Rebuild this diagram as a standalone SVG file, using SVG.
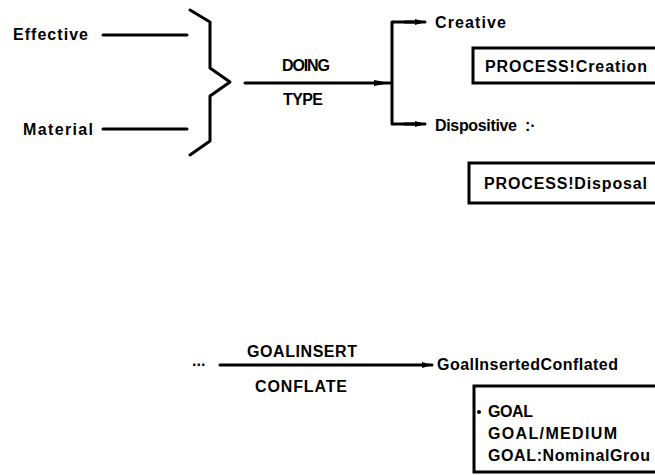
<svg xmlns="http://www.w3.org/2000/svg" width="655" height="475" viewBox="0 0 655 475">
<defs>
<style>
text{font-family:"Liberation Sans",Arial,sans-serif;font-weight:bold;font-size:16px;fill:#000}
.ln{stroke:#000;stroke-width:3;fill:none;stroke-linecap:round;stroke-linejoin:round}
.box{stroke:#000;stroke-width:3;fill:#fff}
</style>
<marker id="ah" viewBox="0 0 10 6" refX="10" refY="3" markerWidth="10" markerHeight="6" markerUnits="userSpaceOnUse" orient="auto"><path d="M0,0 L10,3 L0,6 z" fill="#000"/></marker>
<marker id="ahb" viewBox="0 0 16 8" refX="16" refY="4" markerWidth="16" markerHeight="8" markerUnits="userSpaceOnUse" orient="auto"><path d="M0,1 L16,4 L0,7 z" fill="#000"/></marker>
</defs>
<g id="connectors">
<line class="ln" x1="103" y1="35" x2="187" y2="35"/>
<line class="ln" x1="103" y1="129" x2="187" y2="129"/>
<path class="ln" d="M190,10 L210,22 L210,68 L230,82 L210,96 L210,141 L190,155" stroke-width="3.5"/>
<line class="ln" x1="245" y1="83" x2="390" y2="83" marker-end="url(#ahb)"/>
<path class="ln" d="M420,22 L392,22 L392,124 L420,124"/>
<line class="ln" x1="405" y1="22" x2="425" y2="22" marker-end="url(#ah)"/>
<line class="ln" x1="405" y1="124" x2="425" y2="124" marker-end="url(#ah)"/>
<line class="ln" x1="220" y1="365" x2="432" y2="365" marker-end="url(#ah)"/>
</g>
<g id="effective"><text x="13" y="40" textLength="75">Effective</text></g>
<g id="material"><text x="23" y="135" textLength="70">Material</text></g>
<g id="doing-type">
<text x="282" y="71" textLength="48">DOING</text>
<text x="283" y="105" textLength="40">TYPE</text>
</g>
<g id="creative"><text x="435" y="28" textLength="71">Creative</text></g>
<g id="creation">
<rect class="box" x="473" y="48" width="200" height="35"/>
<text x="485" y="72" textLength="162">PROCESS!Creation</text>
</g>
<g id="dispositive"><text x="435" y="131" textLength="82">Dispositive</text><text x="525" y="131">:·</text></g>
<g id="disposal">
<rect class="box" x="469" y="163" width="200" height="40"/>
<text x="484" y="189" textLength="163">PROCESS!Disposal</text>
</g>
<g id="goalinsert">
<text x="192" y="366">...</text>
<text x="247" y="357" textLength="110">GOALINSERT</text>
<text x="255" y="392" textLength="92">CONFLATE</text>
</g>
<g id="goalinsertedconflated"><text x="437" y="370" textLength="181">GoalInsertedConflated</text></g>
<g id="goal-box">
<rect class="box" x="474" y="386" width="200" height="86"/>
<circle cx="479" cy="412" r="2" fill="#000"/>
<text x="488" y="417" textLength="45">GOAL</text>
<text x="488" y="439" textLength="129">GOAL/MEDIUM</text>
<text x="488" y="461" textLength="162">GOAL:NominalGrou</text>
</g>
</svg>
